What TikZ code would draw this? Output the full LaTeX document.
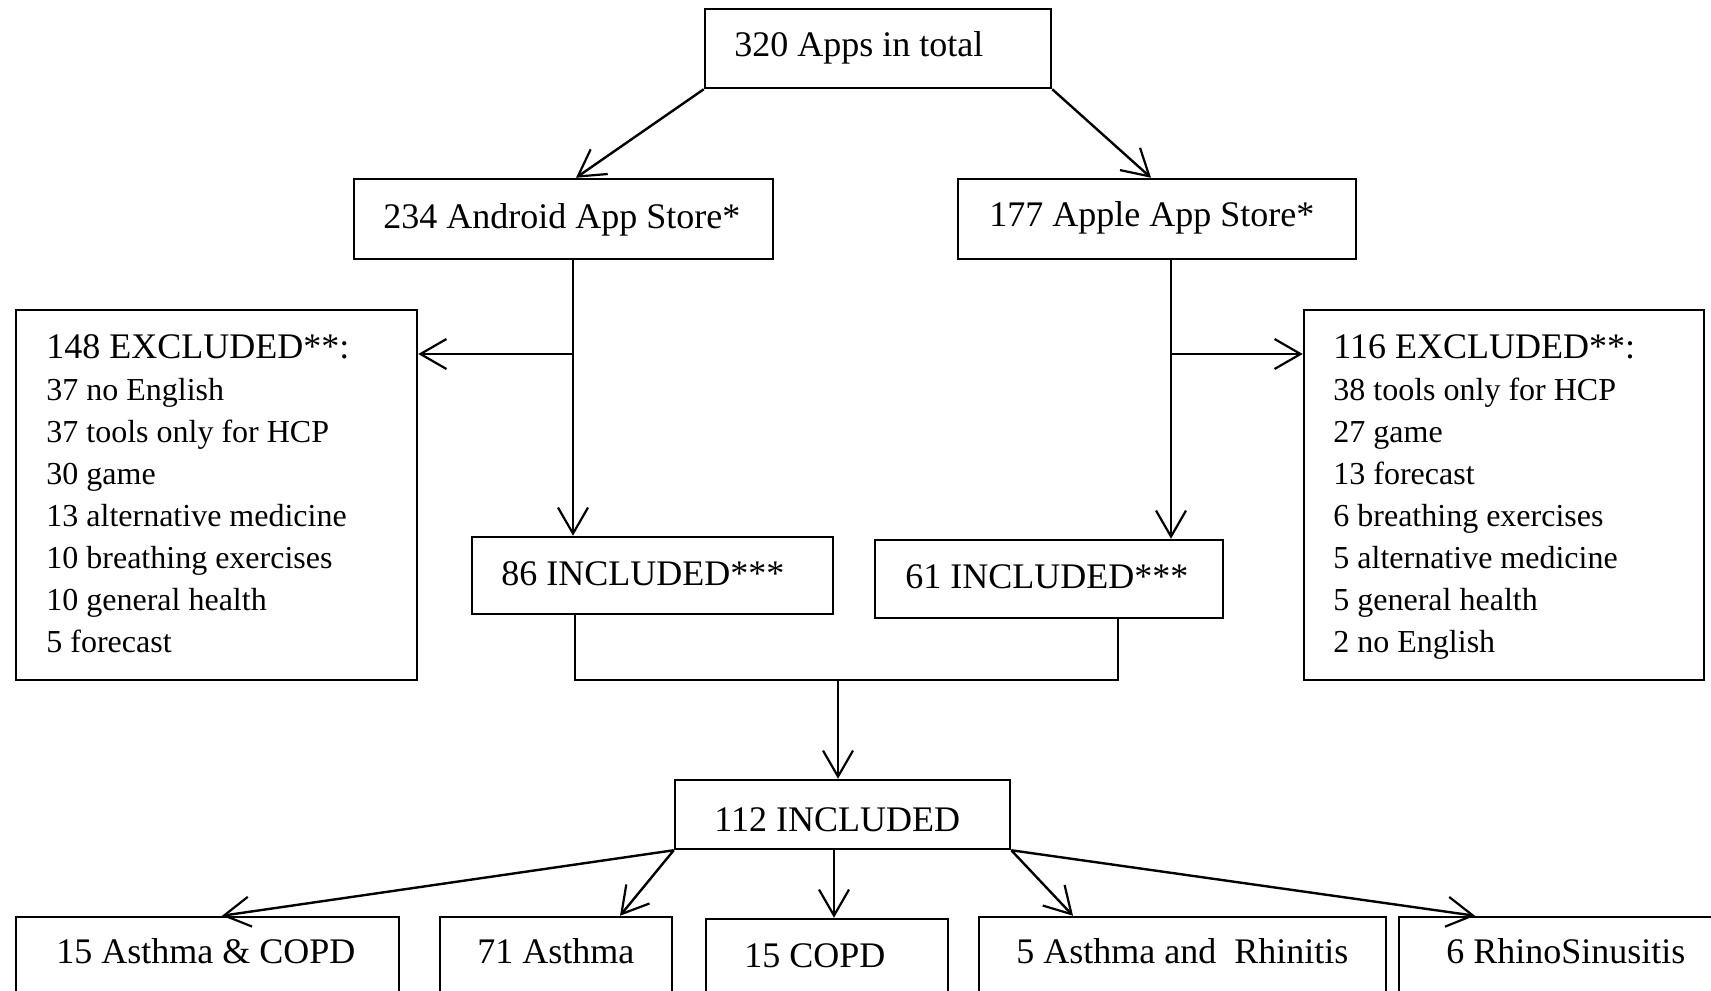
\documentclass[tikz,border=0pt]{standalone}
\usepackage{fontspec}
\setmainfont{Liberation Serif}
\usetikzlibrary{arrows.meta,calc}
\tikzset{
  box/.style={draw, line width=1.25pt, rectangle, inner sep=0pt},
  txt/.style={inner sep=0pt, anchor=base west, font=\fontsize{18pt}{21pt}\selectfont},
  item/.style={inner sep=0pt, anchor=base west, font=\fontsize{16pt}{20pt}\selectfont},
  conn/.style={line width=1.2pt, line join=miter},
  arr/.style={conn, -{Straight Barb[length=13pt,width=15pt,line width=1.1pt]}}
}
\newcommand{\mybox}[5]{\node[box, minimum width={(#4-#2)*0.5pt}, minimum height={(#5-#3)*0.5pt}] (#1) at ({(#2+#4)/2},{(#3+#5)/2}) {};}
\begin{document}
\begin{tikzpicture}[x=0.5pt,y=-0.5pt]
\useasboundingbox (0,0) rectangle (1711,990);
% boxes
\mybox{top}{705}{9}{1051}{88}
\mybox{andr}{354}{179}{773}{259}
\mybox{appl}{958}{179}{1356}{259}
\mybox{exl}{16}{310}{417}{680}
\mybox{exr}{1304}{310}{1704}{680}
\mybox{incA}{472}{537}{833}{614}
\mybox{incB}{875}{540}{1223}{618}
\mybox{inc}{675}{780}{1010}{849}
\mybox{b1}{16}{917}{399}{1005}
\mybox{b2}{440}{917}{672}{1005}
\mybox{b3}{706}{919}{948}{1005}
\mybox{b4}{979}{917}{1386}{1005}
\mybox{b5}{1399}{917}{1725}{1005}
% texts
\node[txt] (ttop) at (734,57) {320 Apps in total};
\node[txt] (tandr) at (383,228) {234 Android App Store*};
\node[txt] (tappl) at (989,226) {177 Apple App Store*};
\node[txt] (texl) at (46,358) {148 EXCLUDED**:};
\node[txt] (texr) at (1333,358) {116 EXCLUDED**:};
\foreach \t [count=\i from 1] in {37 no English,37 tools only for HCP,30 game,13 alternative medicine,10 breathing exercises,10 general health,5 forecast}
  \node[item] (l\i) at (46,{358+\i*42}) {\t};
\foreach \t [count=\i from 1] in {38 tools only for HCP,27 game,13 forecast,6 breathing exercises,5 alternative medicine,5 general health,2 no English}
  \node[item] (r\i) at (1333,{358+\i*42}) {\t};
\node[txt] (tincA) at (501,585) {86 INCLUDED***};
\node[txt] (tincB) at (905,588) {61 INCLUDED***};
\node[txt] (tinc) at (714,831) {112 INCLUDED};
\node[txt] (tb1) at (56,963) {15 Asthma \& COPD};
\node[txt] (tb2) at (477,963) {71 Asthma};
\node[txt] (tb3) at (744,967) {15 COPD};
\node[txt] (tb4) at (1016,963) {5 Asthma and\ \ Rhinitis};
\node[txt] (tb5) at (1446,963) {6 RhinoSinusitis};
% connectors
\coordinate (ja) at (andr.south -| 573,0);
\coordinate (jp) at (appl.south -| 1171,0);
\draw[arr] (top.south west) -- (andr.north -| 576,0);
\draw[arr] (top.south east) -- (appl.north -| 1151,0);
\draw[arr] (ja) -- (incA.north -| ja);
\draw[arr] (ja |- 0,354) -- (exl.east |- 0,354);
\draw[arr] (jp) -- (incB.north -| jp);
\draw[arr] (jp |- 0,354) -- (exr.west |- 0,354);
\coordinate (ma) at (incA.south -| 575,0);
\coordinate (mb) at (incB.south -| 1118,0);
\draw[conn] (ma) -- (ma |- 0,680) -- (mb |- 0,680) -- (mb);
\draw[arr] (838,680) -- (inc.north -| 838,0);
\draw[arr] (inc.south west) -- (b1.north -| 222,0);
\draw[arr] (inc.south west) -- (b2.north -| 620,0);
\draw[arr] (inc.south -| 834,0) -- (b3.north -| 834,0);
\draw[arr] (inc.south east) -- (b4.north -| 1073,0);
\draw[arr] (inc.south east) -- (b5.north -| 1475,0);
\end{tikzpicture}
\end{document}
